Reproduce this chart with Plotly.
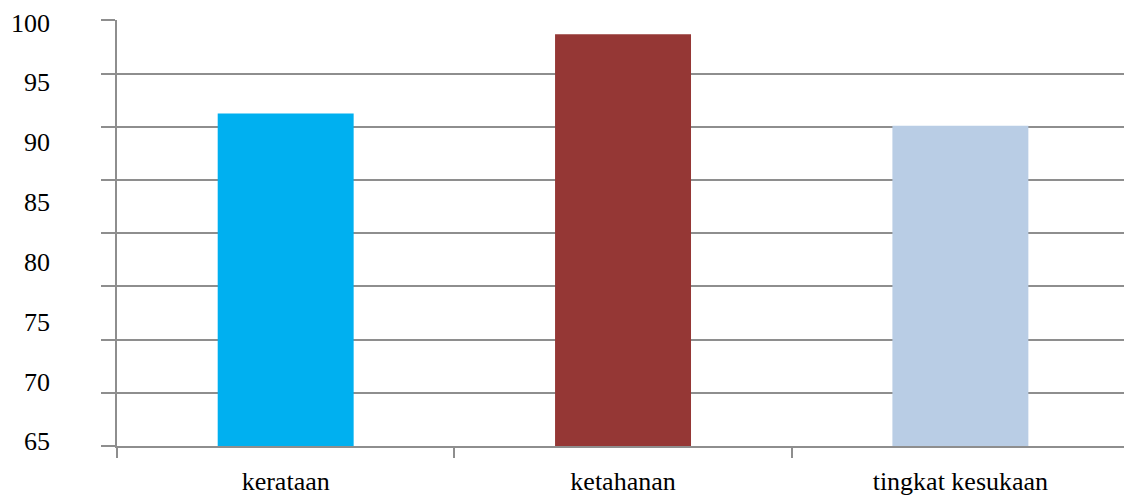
import plotly.graph_objects as go

categories = ["kerataan", "ketahanan", "tingkat kesukaan"]
values = [91.25, 98.7, 90.1]
bar_colors = ["#00B0F0", "#953735", "#B9CDE5"]
y_tick_values = [65, 70, 75, 80, 85, 90, 95, 100]

FONT = "'Times New Roman', 'Liberation Serif', 'DejaVu Serif', serif"
GRID = "#8e8e8e"

fig = go.Figure()
fig.add_trace(go.Bar(
    x=categories, y=values, marker=dict(color=bar_colors, line=dict(width=0)),
    width=0.403, showlegend=False, hoverinfo="x+y",
))
fig.add_trace(go.Scatter(x=[], y=[], yaxis="y2", showlegend=False))

fig.update_layout(
    width=1124, height=496,
    margin=dict(l=117, r=0, t=20, b=50, pad=0),
    paper_bgcolor="white", plot_bgcolor="white",
    font=dict(family=FONT, size=26, color="black"),
    xaxis=dict(
        type="category", range=[-0.5, 2.485],
        showline=True, linecolor=GRID, linewidth=1.5,
        ticks="outside", tickson="boundaries", ticklen=10, tickwidth=1.5, tickcolor=GRID,
        showgrid=False, tickfont=dict(family=FONT, size=26, color="black"),
        ticklabelstandoff=11,
    ),
    yaxis=dict(
        range=[60, 100.03], tick0=60, dtick=5,
        showgrid=True, gridcolor=GRID, gridwidth=1.5,
        showline=True, linecolor=GRID, linewidth=1.5,
        ticks="outside", ticklen=14, tickwidth=1.5, tickcolor=GRID,
        showticklabels=False, zeroline=False,
    ),
    yaxis2=dict(
        overlaying="y", side="left", range=[64.61, 100.21],
        tickmode="array", tickvals=y_tick_values,
        ticktext=[str(v) for v in y_tick_values],
        showgrid=False, showline=False, ticks="", zeroline=False,
        tickfont=dict(family=FONT, size=26, color="black"),
        ticklabelstandoff=66,
    ),
)

fig.write_html("out.html")
